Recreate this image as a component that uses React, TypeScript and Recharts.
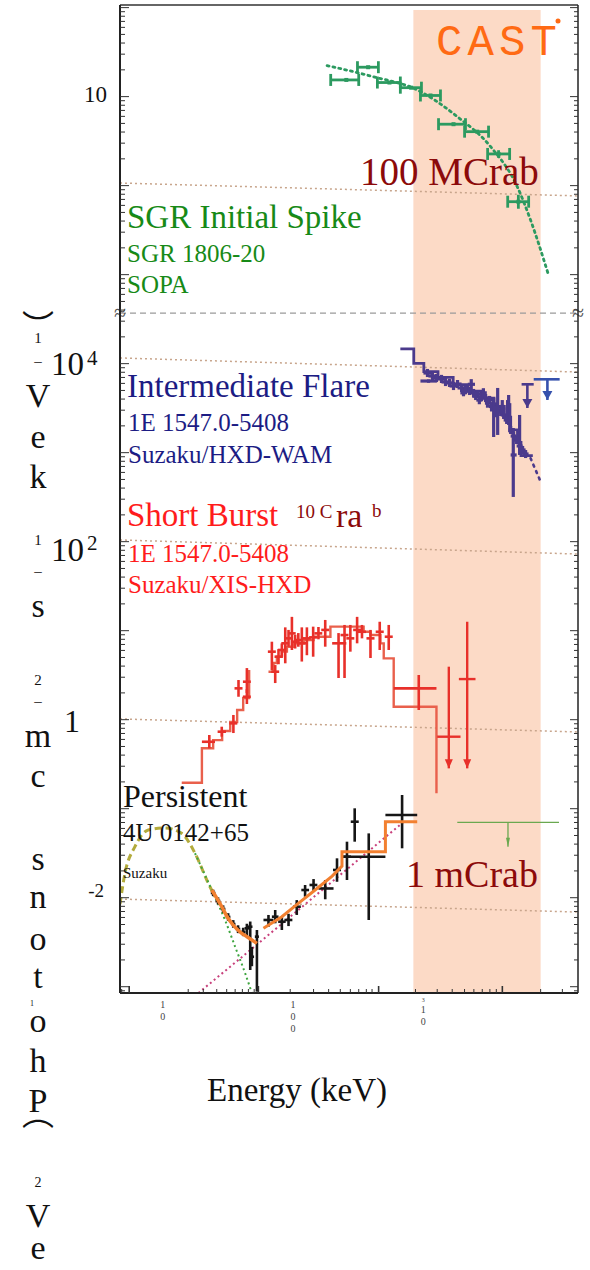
import React from "react";
import {
  ComposedChart,
  Line,
  Scatter,
  XAxis,
  YAxis,
  ErrorBar,
  ReferenceArea,
  ReferenceLine,
} from "recharts";

// upper panel (SGR spike) is drawn six decades above its real flux
const UPPER = 1e6;
const X_DOMAIN = [4.7, 15450];
const Y_DOMAIN = [8.5e-4, 1.07e8];
const BREAK = 37000;
const CAST_BAND = [841, 7980];
const CAST_TOP = 9.4e7;

// ---- SGR 1806-20 initial spike (SOPA) ----
const SGR_POINTS = [
  { e: 257, eLo: 195, eHi: 320, f: 15.4 },
  { e: 378, eLo: 313, eHi: 453, f: 21.4 },
  { e: 551, eLo: 445, eHi: 668, f: 14.4 },
  { e: 809, eLo: 668, eHi: 970, f: 12.6 },
  { e: 1138, eLo: 953, eHi: 1358, f: 10.3 },
  { e: 1710, eLo: 1312, eHi: 2113, f: 4.9 },
  { e: 2600, eLo: 2080, eHi: 3177, f: 4.04 },
  { e: 3793, eLo: 3126, eHi: 4613, f: 2.27, fLo: 2.05, fHi: 2.5 },
  { e: 5383, eLo: 4458, eHi: 6457, f: 0.66, fLo: 0.55, fHi: 0.79 },
];
const SGR_FIT = [
  { e: 183, f: 22.3 },
  { e: 417, f: 16.7 },
  { e: 900, f: 11.9 },
  { e: 1827, f: 5.96 },
  { e: 3296, f: 2.74 },
  { e: 5285, f: 0.97 },
  { e: 6680, f: 0.41 },
  { e: 9080, f: 0.104 },
];

// ---- 1E 1547.0-5408 intermediate flare (HXD-WAM) ----
const FLARE_POINTS = [
  { e: 1100, eLo: 953, eHi: 1275, f: 6380, fLo: 6100, fHi: 6650 },
  { e: 1079, eLo: 1005, eHi: 1158, f: 7850, fLo: 7070, fHi: 8720 },
  { e: 1178, eLo: 1098, eHi: 1265, f: 7265, fLo: 6540, fHi: 8070 },
  { e: 1265, eLo: 1178, eHi: 1358, f: 6900, fLo: 6210, fHi: 7660 },
  { e: 1383, eLo: 1290, eHi: 1485, f: 6730, fLo: 6060, fHi: 7480 },
  { e: 1485, eLo: 1383, eHi: 1594, f: 6225, fLo: 5600, fHi: 6920 },
  { e: 1594, eLo: 1485, eHi: 1710, f: 6070, fLo: 5470, fHi: 6740 },
  { e: 1710, eLo: 1594, eHi: 1836, f: 5610, fLo: 5050, fHi: 6230 },
  { e: 1836, eLo: 1710, eHi: 1972, f: 5900, fLo: 5320, fHi: 6550 },
  { e: 1972, eLo: 1836, eHi: 2115, f: 5333, fLo: 4800, fHi: 5920 },
  { e: 2040, eLo: 1930, eHi: 2160, f: 4700, fLo: 4300, fHi: 5200 },
  { e: 2115, eLo: 1972, eHi: 2270, f: 5060, fLo: 4560, fHi: 5620 },
  { e: 2270, eLo: 2115, eHi: 2438, f: 4930, fLo: 4440, fHi: 5470 },
  { e: 2340, eLo: 2200, eHi: 2500, f: 5860, fLo: 4700, fHi: 6700 },
  { e: 2438, eLo: 2270, eHi: 2618, f: 4688, fLo: 4220, fHi: 5200 },
  { e: 2530, eLo: 2380, eHi: 2700, f: 4300, fLo: 3900, fHi: 4800 },
  { e: 2618, eLo: 2438, eHi: 2811, f: 4560, fLo: 4110, fHi: 5060 },
  { e: 2700, eLo: 2560, eHi: 2850, f: 3900, fLo: 3500, fHi: 4350 },
  { e: 2811, eLo: 2618, eHi: 3016, f: 4226, fLo: 3800, fHi: 4690 },
  { e: 2900, eLo: 2750, eHi: 3080, f: 4700, fLo: 4200, fHi: 5300 },
  { e: 3016, eLo: 2811, eHi: 3238, f: 4113, fLo: 3700, fHi: 4560 },
  { e: 3120, eLo: 2980, eHi: 3280, f: 3600, fLo: 3200, fHi: 4050 },
  { e: 3238, eLo: 3016, eHi: 3477, f: 3908, fLo: 3520, fHi: 4340 },
  { e: 3350, eLo: 3200, eHi: 3520, f: 3300, fLo: 2900, fHi: 3700 },
  { e: 3477, eLo: 3238, eHi: 3733, f: 3524, fLo: 1500, fHi: 4113 },
  { e: 3600, eLo: 3450, eHi: 3760, f: 2900, fLo: 2500, fHi: 3350 },
  { e: 3733, eLo: 3477, eHi: 3936, f: 3015, fLo: 1581, fHi: 5333 },
  { e: 3936, eLo: 3733, eHi: 4150, f: 2865, fLo: 2580, fHi: 3180 },
  { e: 4050, eLo: 3900, eHi: 4250, f: 3300, fLo: 2700, fHi: 3900 },
  { e: 4150, eLo: 3936, eHi: 4377, f: 2652, fLo: 2390, fHi: 2940 },
  { e: 4377, eLo: 4150, eHi: 4532, f: 2328, fLo: 2100, fHi: 2580 },
  { e: 4450, eLo: 4300, eHi: 4600, f: 3100, fLo: 2300, fHi: 3900 },
  { e: 4532, eLo: 4377, eHi: 4695, f: 2865, fLo: 2046, fHi: 4446 },
  { e: 4620, eLo: 4480, eHi: 4780, f: 2200, fLo: 1700, fHi: 3600 },
  { e: 4695, eLo: 4532, eHi: 4950, f: 1799, fLo: 1620, fHi: 2000 },
  { e: 4920, eLo: 4695, eHi: 5220, f: 942, fLo: 318, fHi: 1892 },
  { e: 4950, eLo: 4695, eHi: 5220, f: 1538, fLo: 1390, fHi: 1710 },
  { e: 5220, eLo: 4950, eHi: 5503, f: 1387, fLo: 1250, fHi: 1540 },
  { e: 5503, eLo: 5220, eHi: 5802, f: 1189, fLo: 942, fHi: 2652 },
  { e: 5802, eLo: 5503, eHi: 6118, f: 1072, fLo: 966, fHi: 1190 },
  { e: 6118, eLo: 5802, eHi: 6450, f: 966, fLo: 870, fHi: 1070 },
];
const FLARE_MODEL = [
  { e: 668, f: 14620 },
  { e: 847, f: 10090 },
  { e: 1012, f: 8128 },
  { e: 1300, f: 7000 },
  { e: 1700, f: 5800 },
  { e: 2200, f: 4900 },
  { e: 2800, f: 4100 },
  { e: 3500, f: 3300 },
  { e: 4200, f: 2500 },
  { e: 4700, f: 1800 },
  { e: 5300, f: 1300 },
  { e: 5640, f: 925 },
  { e: 6950, f: 925 },
];
const FLARE_TAIL = [
  { e: 6680, f: 865 },
  { e: 7305, f: 638 },
  { e: 7980, f: 472 },
];
const FLARE_LIMITS = [
  { e: 6310, eLo: 5700, eHi: 7060, f: 5860, fTip: 3176 },
  { e: 8995, eLo: 7060, eHi: 11170, f: 6670, fTip: 3908 },
];

// ---- 1E 1547.0-5408 short burst (XIS-HXD) ----
const SHORT_POINTS = [
  { e: 22.8, eLo: 20.0, eHi: 25.2, f: 0.565, fLo: 0.477, fHi: 0.673 },
  { e: 28.4, eLo: 26.4, eHi: 30.6, f: 0.733, fLo: 0.644, fHi: 0.834 },
  { e: 34.9, eLo: 32.5, eHi: 37.4, f: 0.91, fLo: 0.708, fHi: 1.13 },
  { e: 38.2, eLo: 35.6, eHi: 41.0, f: 2.25, fLo: 1.81, fHi: 2.79 },
  { e: 44.3, eLo: 41.3, eHi: 47.5, f: 2.67, fLo: 2.0, fHi: 3.8 },
  { e: 44.3, eLo: 41.3, eHi: 47.5, f: 1.81, fLo: 1.5, fHi: 2.2 },
  { e: 68.9, eLo: 64.2, eHi: 73.9, f: 5.81, fLo: 3.61, fHi: 7.52 },
  { e: 73.1, eLo: 68.1, eHi: 78.4, f: 3.46, fLo: 2.58, fHi: 4.11 },
  { e: 77.5, eLo: 72.2, eHi: 83.2, f: 5.1, fLo: 4.2, fHi: 6.2 },
  { e: 82.2, eLo: 76.6, eHi: 88.2, f: 6.07, fLo: 5.1, fHi: 7.2 },
  { e: 87.3, eLo: 81.4, eHi: 93.7, f: 7.21, fLo: 4.3, fHi: 10.9 },
  { e: 92.5, eLo: 86.2, eHi: 99.3, f: 8.2, fLo: 6.6, fHi: 10.2 },
  { e: 98.2, eLo: 91.5, eHi: 105, f: 9.33, fLo: 6.07, fHi: 14.3 },
  { e: 104, eLo: 97, eHi: 112, f: 7.52, fLo: 6.3, fHi: 9.0 },
  { e: 110, eLo: 103, eHi: 118, f: 7.85, fLo: 6.6, fHi: 9.4 },
  { e: 117, eLo: 109, eHi: 126, f: 7.21, fLo: 4.5, fHi: 10.9 },
  { e: 128, eLo: 119, eHi: 137, f: 8.2, fLo: 5.3, fHi: 10.9 },
  { e: 143, eLo: 133, eHi: 153, f: 8.41, fLo: 5.1, fHi: 11.1 },
  { e: 157, eLo: 146, eHi: 168, f: 9.33, fLo: 8.0, fHi: 11.0 },
  { e: 177, eLo: 165, eHi: 190, f: 10.2, fLo: 6.61, fHi: 13.2 },
  { e: 224, eLo: 200, eHi: 257, f: 7.21, fLo: 2.94, fHi: 9.4 },
  { e: 249, eLo: 232, eHi: 267, f: 8.93, fLo: 2.94, fHi: 11.6 },
  { e: 276, eLo: 257, eHi: 296, f: 8.2, fLo: 5.81, fHi: 11.6 },
  { e: 311, eLo: 290, eHi: 334, f: 10.2, fLo: 7.21, fHi: 14.3 },
  { e: 339, eLo: 316, eHi: 364, f: 9.72, fLo: 8.2, fHi: 11.6 },
  { e: 394, eLo: 367, eHi: 423, f: 8.2, fLo: 4.93, fHi: 10.2 },
  { e: 464, eLo: 432, eHi: 498, f: 9.72, fLo: 6.07, fHi: 12.6 },
  { e: 544, eLo: 507, eHi: 584, f: 8.55, fLo: 6.07, fHi: 11.6 },
  { e: 925, eLo: 594, eHi: 1265, f: 2.25, fLo: 1.285, fHi: 3.18 },
];
const SHORT_LIMITS = [
  { e: 1574, eLo: 1281, eHi: 1936, f: 0.644, fTop: 3.94, fTip: 0.284 },
  { e: 2178, eLo: 1880, eHi: 2523, f: 2.86, fTop: 12.6, fTip: 0.284 },
];
const SHORT_MODEL_XIS = [
  { e: 14.0, f: 0.196 },
  { e: 20.0, f: 0.477 },
  { e: 24.4, f: 0.59 },
  { e: 28.6, f: 0.746 },
  { e: 33.0, f: 0.942 },
  { e: 37.3, f: 1.285 },
  { e: 41.5, f: 1.754 },
  { e: 46.1, f: 3.61 },
];
const SHORT_MODEL_HXD = [
  { e: 64.9, f: 3.46 },
  { e: 70.9, f: 4.33 },
  { e: 75.3, f: 5.1 },
  { e: 82.2, f: 5.81 },
  { e: 89.9, f: 6.61 },
  { e: 101, f: 7.21 },
  { e: 121, f: 7.85 },
  { e: 144, f: 8.55 },
  { e: 194, f: 11.1 },
  { e: 349, f: 9.72 },
  { e: 394, f: 8.93 },
  { e: 470, f: 7.21 },
  { e: 498, f: 4.89 },
  { e: 594, f: 1.4 },
  { e: 1265, f: 0.149 },
];

// ---- 4U 0142+65 persistent (Suzaku) ----
const PERSIST_POINTS = [
  { e: 24.4, eLo: 23.4, eHi: 25.4, f: 0.0113, fLo: 0.0104, fHi: 0.0123 },
  { e: 26.6, eLo: 25.5, eHi: 27.7, f: 0.0092, fLo: 0.0084, fHi: 0.0101 },
  { e: 29.1, eLo: 27.9, eHi: 30.3, f: 0.00746, fLo: 0.0068, fHi: 0.0082 },
  { e: 31.8, eLo: 30.5, eHi: 33.1, f: 0.00608, fLo: 0.0055, fHi: 0.0067 },
  { e: 34.8, eLo: 33.4, eHi: 36.2, f: 0.00506, fLo: 0.0046, fHi: 0.0056 },
  { e: 37.9, eLo: 36.4, eHi: 39.4, f: 0.00445, fLo: 0.004, fHi: 0.0049 },
  { e: 41.5, eLo: 39.8, eHi: 43.2, f: 0.00412, fLo: 0.0037, fHi: 0.0046 },
  { e: 44.3, eLo: 42.5, eHi: 46.1, f: 0.00453, fLo: 0.0036, fHi: 0.0051 },
  { e: 47.0, eLo: 45.1, eHi: 48.9, f: 0.00472, fLo: 0.00154, fHi: 0.0054 },
  { e: 48.4, eLo: 46.5, eHi: 50.3, f: 0.00217, fLo: 0.0017, fHi: 0.0028 },
  { e: 52.9, eLo: 51.0, eHi: 54.8, f: 0.00365, fLo: 0.00088, fHi: 0.00434 },
  { e: 64.9, eLo: 59.4, eHi: 70.9, f: 0.00562, fLo: 0.00472, fHi: 0.0064 },
  { e: 73.1, eLo: 68.9, eHi: 77.5, f: 0.00612, fLo: 0.00516, fHi: 0.00728 },
  { e: 82.2, eLo: 77.0, eHi: 88.0, f: 0.00538, fLo: 0.00434, fHi: 0.00612 },
  { e: 92.5, eLo: 86.0, eHi: 99.0, f: 0.00562, fLo: 0.0048, fHi: 0.0066 },
  { e: 107, eLo: 100, eHi: 115, f: 0.00792, fLo: 0.0064, fHi: 0.0094 },
  { e: 124, eLo: 116, eHi: 133, f: 0.0122, fLo: 0.01026, fHi: 0.0139 },
  { e: 144, eLo: 134, eHi: 154, f: 0.0139, fLo: 0.0118, fHi: 0.0162 },
  { e: 177, eLo: 157, eHi: 205, f: 0.0127, fLo: 0.0096, fHi: 0.0158 },
  { e: 218, eLo: 203, eHi: 234, f: 0.0205, fLo: 0.0151, fHi: 0.0277 },
  { e: 260, eLo: 243, eHi: 279, f: 0.0289, fLo: 0.0158, fHi: 0.0426 },
  { e: 298, eLo: 278, eHi: 320, f: 0.0714, fLo: 0.0426, fHi: 0.101 },
  { e: 382, eLo: 238, eHi: 513, f: 0.0289, fLo: 0.00562, fHi: 0.0528 },
  { e: 689, eLo: 513, eHi: 900, f: 0.0849, fLo: 0.0359, fHi: 0.1426 },
];
const PERSIST_MODEL_SOFT = [
  { e: 23.8, f: 0.0122 },
  { e: 26.0, f: 0.0099 },
  { e: 28.4, f: 0.00792 },
  { e: 31.0, f: 0.00623 },
  { e: 33.9, f: 0.00516 },
  { e: 37.1, f: 0.00445 },
  { e: 40.5, f: 0.00398 },
  { e: 44.3, f: 0.00365 },
  { e: 48.4, f: 0.00335 },
  { e: 52.9, f: 0.00307 },
];
const PERSIST_MODEL_HARD = [
  { e: 59.4, f: 0.00453 },
  { e: 82.2, f: 0.00612 },
  { e: 110, f: 0.00865 },
  { e: 148, f: 0.0122 },
  { e: 200, f: 0.0175 },
  { e: 238, f: 0.0227 },
  { e: 238, f: 0.0329 },
  { e: 513, f: 0.0329 },
  { e: 513, f: 0.0714 },
  { e: 900, f: 0.0714 },
];
const PERSIST_HUMP = [
  { e: 4.7, f: 0.0085 },
  { e: 5.13, f: 0.0188 },
  { e: 6.12, f: 0.0374 },
  { e: 7.74, f: 0.0576 },
  { e: 10.4, f: 0.0607 },
  { e: 14.0, f: 0.0528 },
  { e: 17.7, f: 0.0316 },
  { e: 22.4, f: 0.0145 },
  { e: 25.2, f: 0.01026 },
];
const PERSIST_BB = [
  { e: 17.7, f: 0.0316 },
  { e: 23.8, f: 0.0122 },
  { e: 30.1, f: 0.00562 },
  { e: 36.0, f: 0.00281 },
  { e: 43.0, f: 0.00141 },
  { e: 48.4, f: 0.00085 },
];
const PERSIST_PL = [
  { e: 18.8, f: 0.00085 },
  { e: 54.3, f: 0.00307 },
  { e: 710, f: 0.0714 },
];
const PERSIST_LIMIT = [{ e: 4480, eLo: 1828, eHi: 11040, f: 0.0703, fTip: 0.0374 }];

// ---- Crab-like reference levels ----
const CRAB_100M = [{ e: 4.7, f: 1.07 }, { e: 15450, f: 0.766 }];
const CRAB_LOWER = [
  [{ e: 4.7, f: 11590 }, { e: 15450, f: 8050 }],
  [{ e: 4.7, f: 104.5 }, { e: 15450, f: 72.6 }],
  [{ e: 4.7, f: 1.02 }, { e: 15450, f: 0.728 }],
  [{ e: 4.7, f: 0.00966 }, { e: 15450, f: 0.0069 }],
];

// ---- axis ticks ----
const X_LABELS = [
  { value: 10, sup: "", digits: ["1", "0"] },
  { value: 100, sup: "", digits: ["1", "0", "0"] },
  { value: 1000, sup: "3", digits: ["1", "0"] },
];
const X_TALL = [5.53, 54.3, 455, 4055];
const X_MINOR = [
  4.84, 15.7, 20.5, 26.0, 31.0, 36.0, 40.9, 45.5, 50.4, 95.3, 144, 188, 231, 276, 320, 366,
  405, 873, 1282, 1671, 2078, 2451, 2843, 3253, 3644, 7980, 11720,
];
const Y_LABELS = [
  { value: 1e7, text: "10", sup: "" },
  { value: 1e4, text: "10", sup: "4" },
  { value: 1e2, text: "10", sup: "2" },
  { value: 1, text: "1", sup: "" },
  { value: 1e-2, text: "-2", sup: "" },
];
const Y_LABEL_STYLE = [
  { dx: -13, dy: 5, size: 23, supDy: 0 },
  { dx: -36, dy: 11, size: 33, supDy: 1 },
  { dx: -36, dy: 19, size: 33, supDy: 8 },
  { dx: -40, dy: 12, size: 32, supDy: 0 },
  { dx: -16, dy: -1, size: 19, supDy: 0 },
];

const yTicks: number[] = [];
for (let n = -4; n <= 8; n++) {
  for (let k = 1; k <= 9; k++) {
    const v = k * Math.pow(10, n);
    if (v > Y_DOMAIN[0] && v < Y_DOMAIN[1] && Math.abs(Math.log10(v / BREAK)) > 0.03) yTicks.push(v);
  }
}
const xTicks = [...X_LABELS.map((l) => l.value), ...X_TALL, ...X_MINOR].sort((a, b) => a - b);

const SERIF = "'Liberation Serif', 'Times New Roman', serif";
const COL = {
  green: "#2c9a60",
  sgrText: "#178a17",
  navy: "#1c1c84",
  purple: "#4b3a8c",
  blue: "#3651ad",
  red: "#e8302a",
  redModel: "#e9604c",
  redText: "#ff1c1c",
  darkRed: "#8c0a0a",
  black: "#161616",
  orange: "#f28030",
  olive: "#b3ab3c",
  bb: "#3fa540",
  pl: "#c8407c",
  crab: "#c8a58c",
  limitGreen: "#6aa84f",
  band: "#fcdac6",
};

type Pt = { e: number; eLo?: number; eHi?: number; f: number; fLo?: number; fHi?: number };

const toRow = (p: Pt, k = 1) => ({
  e: p.e,
  y: p.f * k,
  ex: [p.e - (p.eLo ?? p.e), (p.eHi ?? p.e) - p.e],
  ey: [(p.f - (p.fLo ?? p.f)) * k, ((p.fHi ?? p.f) - p.f) * k],
});
const toLine = (pts: { e: number; f: number }[], k = 1) => pts.map((p) => ({ e: p.e, y: p.f * k }));

const sameVal = (a: number, b: number) => Math.abs(Math.log10(a) - Math.log10(b)) < 1e-6;
const isDecade = (v: number) => Math.abs(Math.log10(v) - Math.round(Math.log10(v))) < 1e-6;

const noDot = () => <g />;
const sgrDot = (p: any) => <rect x={p.cx - 2} y={p.cy - 2} width={4} height={4} fill={COL.green} />;
const arrowHead = (color: string, size = 5) => (p: any) => (
  <path d={`M${p.cx - size},${p.cy - 9} L${p.cx + size},${p.cy - 9} L${p.cx},${p.cy} Z`} fill={color} />
);

function XTick(props: any) {
  const { x, y, payload } = props;
  const v = payload.value;
  const lab = X_LABELS.find((l) => sameVal(l.value, v));
  if (lab) {
    const start = lab.sup ? 20 : 15;
    return (
      <g fontFamily={SERIF} fill="#444" textAnchor="middle">
        {lab.sup && (
          <text x={x} y={y + 9} fontSize={6}>
            {lab.sup}
          </text>
        )}
        {lab.digits.map((d, i) => (
          <text key={i} x={x} y={y + start + i * 12} fontSize={10}>
            {d}
          </text>
        ))}
      </g>
    );
  }
  const tall = X_TALL.some((t) => sameVal(t, v));
  return <line x1={x} x2={x} y1={y} y2={y - (tall ? 7 : 4)} stroke="#333" strokeWidth={tall ? 1.6 : 1} />;
}

function YTick(props: any) {
  const { x, y, payload } = props;
  const v = payload.value;
  const major = isDecade(v);
  const idx = Y_LABELS.findIndex((l) => sameVal(l.value, v));
  const st = idx >= 0 ? Y_LABEL_STYLE[idx] : null;
  return (
    <g>
      <line x1={x} x2={x + (major ? 9 : 5)} y1={y} y2={y} stroke="#333" strokeWidth={1} />
      {st && (
        <g fill="#111">
          <text x={x + st.dx} y={y + st.dy} textAnchor="end" style={{ fontFamily: SERIF, fontSize: st.size }}>
            {Y_LABELS[idx].text}
          </text>
          {Y_LABELS[idx].sup && (
            <text x={x + st.dx + 3} y={y + st.supDy} style={{ fontFamily: SERIF, fontSize: 21 }}>
              {Y_LABELS[idx].sup}
            </text>
          )}
        </g>
      )}
    </g>
  );
}

function RightTick(props: any) {
  const { x, y, payload } = props;
  const major = isDecade(payload.value);
  return <line x1={x} x2={x - (major ? 8 : 4)} y1={y} y2={y} stroke="#333" strokeWidth={1} />;
}

function BreakMarks(props: any) {
  const vb = props.viewBox || {};
  return (
    <g fontFamily={SERIF} fontSize={22} fill="#555" textAnchor="middle">
      <text x={vb.x} y={vb.y + 7}>≈</text>
      <text x={vb.x + vb.width} y={vb.y + 7}>≈</text>
    </g>
  );
}

// the axis title is printed one upright glyph at a time, read from bottom to top;
// its two brackets are the vertical presentation forms
const Y_TITLE = [
  { ch: "︶", y: 338, size: 32, cjk: true },
  { ch: "1", y: 343, size: 15 },
  { ch: "–", y: 366, size: 15 },
  { ch: "V", y: 407, size: 34 },
  { ch: "e", y: 448, size: 34 },
  { ch: "k", y: 488, size: 34 },
  { ch: "1", y: 545, size: 15 },
  { ch: "–", y: 576, size: 15 },
  { ch: "s", y: 617, size: 34 },
  { ch: "2", y: 685, size: 15 },
  { ch: "–", y: 706, size: 15 },
  { ch: "m", y: 747, size: 34 },
  { ch: "c", y: 787, size: 34 },
  { ch: "s", y: 870, size: 34 },
  { ch: "n", y: 908, size: 34 },
  { ch: "o", y: 950, size: 34 },
  { ch: "t", y: 988, size: 34 },
  { ch: "1", y: 1006, size: 8, dx: -6 },
  { ch: "o", y: 1032, size: 34 },
  { ch: "h", y: 1072, size: 34 },
  { ch: "P", y: 1112, size: 34 },
  { ch: "︵", y: 1125, size: 32, cjk: true },
  { ch: "2", y: 1187, size: 14 },
  { ch: "V", y: 1227, size: 34 },
  { ch: "e", y: 1259, size: 34 },
];

const line = (key: string, data: any[], stroke: string, width: number, extra: any = {}) => (
  <Line
    key={key}
    data={data}
    dataKey="y"
    stroke={stroke}
    strokeWidth={width}
    dot={false}
    activeDot={false}
    isAnimationActive={false}
    legendType="none"
    {...extra}
  />
);

const points = (key: string, rows: any[], color: string, width: number, shape: any = noDot, cap = 0) => (
  <Scatter key={key} data={rows} dataKey="y" shape={shape} isAnimationActive={false} legendType="none">
    <ErrorBar dataKey="ex" direction="x" width={cap} stroke={color} strokeWidth={width} />
    <ErrorBar dataKey="ey" direction="y" width={0} stroke={color} strokeWidth={width} />
  </Scatter>
);

const limitRows = (l: any, k = 1) => ({
  e: l.e,
  y: l.f * k,
  ex: [l.e - l.eLo, l.eHi - l.e],
  ey: [(l.f - l.fTip) * k, ((l.fTop ?? l.f) - l.f) * k],
});

export default function App() {
  const sgrRows = SGR_POINTS.map((p) => toRow(p, UPPER));
  const flareRows = FLARE_POINTS.map((p) => toRow(p));
  const shortRows = SHORT_POINTS.map((p) => toRow(p));
  const persistRows = PERSIST_POINTS.map((p) => toRow(p));
  const flareLimitColors = [COL.purple, COL.blue];

  return (
    <div style={{ position: "absolute", left: 0, top: 0, width: 590, height: 1270, background: "#fff", overflow: "hidden" }}>
      <div style={{ position: "absolute", left: 0, top: 0 }}>
        <ComposedChart width={590} height={1040} margin={{ top: 4, right: 11, bottom: 46, left: 119 }}>
          <XAxis
            dataKey="e"
            type="number"
            scale="log"
            domain={X_DOMAIN}
            allowDataOverflow
            ticks={xTicks}
            interval={0}
            tick={<XTick />}
            tickLine={false}
            tickSize={0}
            tickMargin={0}
            height={1}
            axisLine={{ stroke: "#222", strokeWidth: 2 }}
          />
          <XAxis
            xAxisId="top"
            orientation="top"
            type="number"
            scale="log"
            domain={X_DOMAIN}
            allowDataOverflow
            tick={false}
            tickLine={false}
            height={1}
            axisLine={{ stroke: "#333", strokeWidth: 1.5 }}
          />
          <YAxis
            dataKey="y"
            type="number"
            scale="log"
            domain={Y_DOMAIN}
            allowDataOverflow
            ticks={yTicks}
            interval={0}
            tick={<YTick />}
            tickLine={false}
            tickSize={0}
            tickMargin={0}
            width={1}
            axisLine={{ stroke: "#222", strokeWidth: 2 }}
          />
          <YAxis
            yAxisId="right"
            orientation="right"
            type="number"
            scale="log"
            domain={Y_DOMAIN}
            allowDataOverflow
            ticks={yTicks}
            interval={0}
            tick={<RightTick />}
            tickLine={false}
            tickSize={0}
            tickMargin={0}
            width={1}
            axisLine={{ stroke: "#222", strokeWidth: 1.5 }}
          />

          <ReferenceArea
            x1={CAST_BAND[0]}
            x2={CAST_BAND[1]}
            y1={CAST_TOP}
            y2={Y_DOMAIN[0]}
            fill={COL.band}
            fillOpacity={1}
            stroke="none"
            ifOverflow="hidden"
          />
          <ReferenceLine y={BREAK} stroke="#9a9a9a" strokeWidth={1.2} strokeDasharray="6 4" label={<BreakMarks />} />

          {line("crab100M", toLine(CRAB_100M, UPPER), COL.crab, 1.5, { strokeDasharray: "2 3" })}
          {CRAB_LOWER.map((c, i) => line(`crab${i}`, toLine(c), COL.crab, 1.5, { strokeDasharray: "2 3" }))}

          {line("sgrFit", toLine(SGR_FIT, UPPER), COL.green, 2.8, { type: "monotone", strokeDasharray: "2 4", strokeLinecap: "round" })}
          {points("sgr", sgrRows, COL.green, 2.8, sgrDot, 6)}

          {line("flareModel", toLine(FLARE_MODEL), COL.purple, 2.8, { type: "stepAfter" })}
          {line("flareTail", toLine(FLARE_TAIL), COL.purple, 2.6, { type: "linear", strokeDasharray: "2 5", strokeLinecap: "round" })}
          {points("flare", flareRows, COL.purple, 3.2)}
          {FLARE_LIMITS.map((l, i) => points(`flareLim${i}`, [limitRows(l)], flareLimitColors[i], 2.6))}
          {FLARE_LIMITS.map((l, i) => (
            <Scatter
              key={`flareTip${i}`}
              data={[{ e: l.e, y: l.fTip }]}
              dataKey="y"
              shape={arrowHead(flareLimitColors[i])}
              isAnimationActive={false}
              legendType="none"
            />
          ))}

          {line("shortXis", toLine(SHORT_MODEL_XIS), COL.redModel, 2.4, { type: "stepAfter" })}
          {line("shortHxd", toLine(SHORT_MODEL_HXD), COL.redModel, 2.4, { type: "stepAfter" })}
          {points("short", shortRows, COL.red, 2.6)}
          {points("shortLim", SHORT_LIMITS.map((l) => limitRows(l)), COL.red, 2.4)}
          <Scatter
            data={SHORT_LIMITS.map((l) => ({ e: l.e, y: l.fTip }))}
            dataKey="y"
            shape={arrowHead(COL.red, 4)}
            isAnimationActive={false}
            legendType="none"
          />

          {line("hump", toLine(PERSIST_HUMP), COL.olive, 3, { type: "monotone", strokeDasharray: "7 4" })}
          {line("bb", toLine(PERSIST_BB), COL.bb, 2, { type: "monotone", strokeDasharray: "2 3" })}
          {line("pl", toLine(PERSIST_PL), COL.pl, 2, { type: "linear", strokeDasharray: "2 3" })}
          {points("persist", persistRows, COL.black, 2.6)}
          {line("softModel", toLine(PERSIST_MODEL_SOFT), COL.orange, 3.5, { type: "monotone" })}
          {line("hardModel", toLine(PERSIST_MODEL_HARD), COL.orange, 3, { type: "linear" })}
          {points("persistLim", PERSIST_LIMIT.map((l) => limitRows(l)), COL.limitGreen, 1.3)}
          <Scatter
            data={PERSIST_LIMIT.map((l) => ({ e: l.e, y: l.fTip }))}
            dataKey="y"
            shape={arrowHead(COL.limitGreen, 2)}
            isAnimationActive={false}
            legendType="none"
          />
        </ComposedChart>
      </div>

      <svg width={590} height={1270} style={{ position: "absolute", left: 0, top: 0, pointerEvents: "none" }}>
        <g fontFamily={SERIF}>
          <text x={436} y={55} fontFamily="'Liberation Mono', 'Courier New', monospace" fontSize={44} fill="#ff6a14" textLength={121} lengthAdjust="spacing">
            CAST
          </text>
          <circle cx={558} cy={21} r={2.5} fill="#ff6a14" />
          <text x={360} y={185} fontSize={39} fill={COL.darkRed}>100 MCrab</text>

          <text x={127} y={228} fontSize={33} fill={COL.sgrText}>SGR Initial Spike</text>
          <text x={127} y={262} fontSize={25} fill={COL.sgrText}>SGR 1806-20</text>
          <text x={127} y={293} fontSize={25} fill={COL.sgrText}>SOPA</text>

          <text x={127} y={397} fontSize={33} fill={COL.navy}>Intermediate Flare</text>
          <text x={128} y={431} fontSize={25} fill={COL.navy}>1E 1547.0-5408</text>
          <text x={128} y={463} fontSize={25} fill={COL.navy}>Suzaku/HXD-WAM</text>

          <text x={127} y={526} fontSize={33} fill={COL.redText}>Short Burst</text>
          <text x={296} y={518} fontSize={19} fill={COL.darkRed}>10 C</text>
          <text x={336} y={527} fontSize={34} fill={COL.darkRed}>ra</text>
          <text x={372} y={517} fontSize={19} fill={COL.darkRed}>b</text>
          <text x={128} y={562} fontSize={25} fill={COL.redText}>1E 1547.0-5408</text>
          <text x={128} y={593} fontSize={25} fill={COL.redText}>Suzaku/XIS-HXD</text>

          <text x={123} y={807} fontSize={32} fill="#111">Persistent</text>
          <text x={123} y={841} fontSize={25} fill="#111">4U 0142+65</text>
          <text x={123} y={878} fontSize={15} fill="#111">Suzaku</text>
          <text x={406} y={887} fontSize={38} fill={COL.darkRed}>1 mCrab</text>

          <text x={297} y={1101} fontSize={33} fill="#111" textAnchor="middle">Energy (keV)</text>

          {Y_TITLE.map((c, i) => (
            <text
              key={i}
              x={38 + (c.dx ?? 0)}
              y={c.y}
              fontSize={c.size}
              fill="#111"
              textAnchor="middle"
              fontFamily={c.cjk ? "'Noto Sans CJK JP', 'Noto Sans CJK SC', sans-serif" : SERIF}
            >
              {c.ch}
            </text>
          ))}
        </g>
      </svg>
    </div>
  );
}
